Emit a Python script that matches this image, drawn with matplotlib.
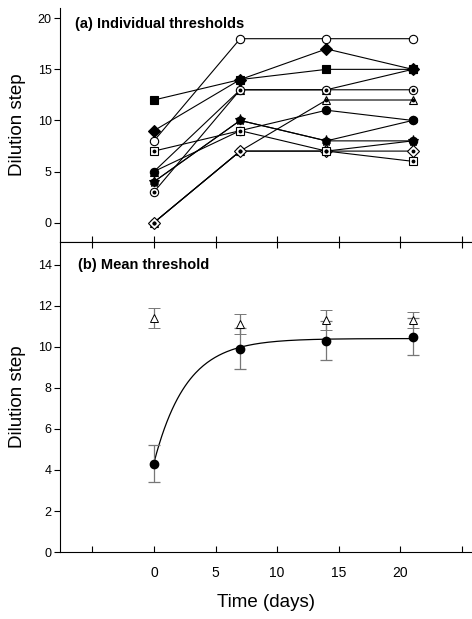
import numpy as np
import matplotlib.pyplot as plt

plt.rcParams['font.family'] = ['Liberation Sans', 'DejaVu Sans']

# Dagen van meting
dagen = [0, 7, 14, 21]

# (a) individuele drempels per proefpersoon
individueel = {
    'A': [8, 18, 18, 18],
    'B': [9, 14, 17, 15],
    'C': [12, 14, 15, 15],
    'D': [5, 13, 13, 15],
    'E': [3, 13, 13, 13],
    'F': [0, 7, 12, 12],
    'G': [5, 9, 11, 10],
    'H': [4, 10, 8, 10],
    'I': [4, 10, 8, 8],
    'J': [0, 7, 7, 8],
    'K': [0, 7, 7, 7],
    'L': [7, 9, 7, 6],
}
# marker, gevuld?, stip in het midden?
stijlen = {
    'A': ('o', False, False),
    'B': ('D', True, False),
    'C': ('s', True, False),
    'D': ('^', True, False),
    'E': ('o', False, True),
    'F': ('^', False, True),
    'G': ('o', True, False),
    'H': ('h', True, False),
    'I': ('*', True, False),
    'J': ('o', True, False),
    'K': ('D', False, True),
    'L': ('s', False, True),
}

# (b) gemiddelde drempel
gem_cirkel = [4.3, 9.9, 10.3, 10.5]
fout_cirkel = [0.9, 1.0, 0.95, 0.9]
gem_driehoek = [11.4, 11.1, 11.3, 11.3]
fout_driehoek = [0.5, 0.5, 0.5, 0.4]

# exponentiele fit door de cirkels
fit_plateau = 10.4
fit_start = 4.35
fit_k = 0.38

fig = plt.figure(figsize=(4.72, 6.19), dpi=100)
ax1 = fig.add_axes([0.127, 0.609, 0.872, 0.378])
ax2 = fig.add_axes([0.127, 0.108, 0.872, 0.501])

for naam, waarden in individueel.items():
    m, gevuld, stip = stijlen[naam]
    ms = 6 if m != '*' else 8
    ax1.plot(dagen, waarden, color='black', lw=0.8, marker=m, ms=ms,
             mfc='black' if gevuld else 'white', mec='black', mew=0.8, zorder=3)
    if stip:
        ax1.plot(dagen, waarden, ls='none', marker='o', ms=1.8, color='black', zorder=4)

ax1.set_xlim(-7.63, 25.78)
ax1.set_ylim(-1.9, 21)
ax1.set_yticks([0, 5, 10, 15, 20])
ax1.set_xticks([-5, 0, 5, 10, 15, 20, 25])
ax1.set_xticklabels([])
ax1.spines['top'].set_visible(False)
ax1.spines['right'].set_visible(False)
ax1.tick_params(axis='x', direction='in', length=4, width=0.8)
ax1.tick_params(axis='y', direction='out', length=4, width=0.8, labelsize=9, pad=2)
ax1.set_ylabel('Dilution step', fontsize=13.5, labelpad=8)
ax1.text(0.036, 0.93, '(a) Individual thresholds', transform=ax1.transAxes,
         fontsize=10.5, fontweight='bold', va='center')

# fitcurve
t = np.linspace(0, 21, 200)
ax2.plot(t, fit_plateau - (fit_plateau - fit_start) * np.exp(-fit_k * t),
         color='black', lw=0.9)
ax2.errorbar(dagen, gem_cirkel, yerr=fout_cirkel, fmt='o', color='black', ms=6,
             ecolor='#777777', elinewidth=0.9, capsize=4, capthick=0.9, zorder=3)
ax2.errorbar(dagen, gem_driehoek, yerr=fout_driehoek, fmt='^', color='black', ms=6,
             mfc='white', mew=0.7, ecolor='#777777', elinewidth=0.9, capsize=4,
             capthick=0.9, zorder=3)

ax2.set_xlim(-7.63, 25.78)
ax2.set_ylim(0, 15.1)
ax2.set_yticks(range(0, 16, 2))
ax2.set_xticks([-5, 0, 5, 10, 15, 20, 25])
ax2.set_xticklabels(['', '0', '5', '10', '15', '20', ''])
ax2.spines['right'].set_visible(False)
ax2.tick_params(axis='x', direction='in', length=4, width=0.8, labelsize=10,
                top=True, pad=10)
ax2.tick_params(axis='y', direction='out', length=4, width=0.8, labelsize=9, pad=2)
ax2.set_ylabel('Dilution step', fontsize=13.5, labelpad=8)
ax2.set_xlabel('Time (days)', fontsize=13.5, labelpad=10)
ax2.text(0.044, 0.926, '(b) Mean threshold', transform=ax2.transAxes,
         fontsize=10.5, fontweight='bold', va='center')

fig.savefig('out.png', dpi=100)
